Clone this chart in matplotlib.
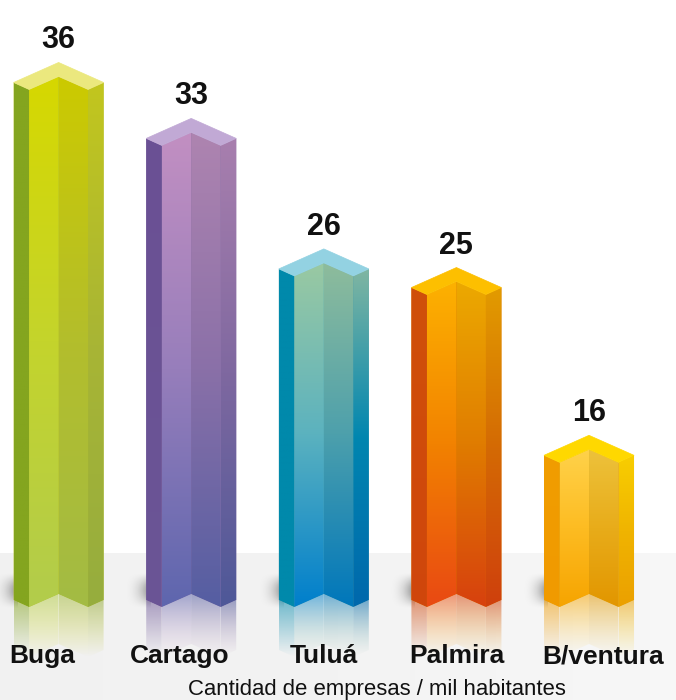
import numpy as np
import matplotlib.pyplot as plt
from matplotlib.patches import Polygon
from matplotlib.colors import LinearSegmentedColormap

categories = ["Buga", "Cartago", "Tuluá", "Palmira", "B/ventura"]
values = [36, 33, 26, 25, 16]
xlabel = "Cantidad de empresas / mil habitantes"

# face colours, top -> bottom
colors = [
    dict(top='#ebe87e', left=['#84a51f', '#84a51f'],
         fl=['#d6d800', '#c4d42c', '#b2cc4c'], fr=['#ccca00', '#b3be2c', '#a3bb44'],
         right=['#c2c61e', '#a8b535', '#96ad3e']),
    dict(top='#c1a9d5', left=['#6b5094', '#6a5596'],
         fl=['#c28fc2', '#977ebb', '#5e66ae'], fr=['#ae84b0', '#8a70a8', '#555ea2'],
         right=['#a87fae', '#7f68a0', '#4e5898']),
    dict(top='#93d2e2', left=['#0089ab', '#0089ab'],
         fl=['#9ac9a2', '#5bb2bf', '#007fcc'], fr=['#8ebc9c', '#4da0ac', '#0077bb'],
         right=['#80b6a2', '#0086b0', '#0068ac']),
    dict(top='#fdbf00', left=['#d0500a', '#cf460c'],
         fl=['#fdb100', '#f28200', '#e94913'], fr=['#eca900', '#e07c00', '#d7410e'],
         right=['#e29b00', '#d46a04', '#cf400d']),
    dict(top='#ffd800', left=['#f19d00', '#f09a00'],
         fl=['#ffd24a', '#fdbc22', '#f6a400'], fr=['#edc23b', '#e8ac1a', '#e29600'],
         right=['#f8ce00', '#f0b400', '#eba000']),
]

W, H = 676, 700
base = 8.24
xlim = (-0.442, 4.656)
ylim = (3.25, 40.80)
dx = (xlim[1] - xlim[0]) / W   # data units per pixel
dy = (ylim[1] - ylim[0]) / H


def py(p):
    # pixel row (from top) -> data y
    return ylim[1] - p * dy


def fill_grad(ax, verts, stops, alpha=(1, 1), z=2):
    poly = Polygon(verts, closed=True, fc='none', ec='none')
    ax.add_patch(poly)
    xs, ys = zip(*verts)
    cmap = LinearSegmentedColormap.from_list('g', stops)
    rgba = cmap(np.linspace(0, 1, 128))
    rgba[:, 3] = np.linspace(alpha[0], alpha[1], 128)
    im = ax.imshow(rgba[:, None, :], extent=[min(xs), max(xs), min(ys), max(ys)],
                   origin='upper', aspect='auto', interpolation='bilinear', zorder=z)
    im.set_clip_path(poly)


fig = plt.figure(figsize=(W / 100, H / 100), dpi=100)
ax = fig.add_axes([0, 0, 1, 1])
ax.axis('off')

# grey floor
floor = LinearSegmentedColormap.from_list('f', ['#f1f1f1', '#f3f3f3', '#f9f9f9'])(np.linspace(0, 1, 256))
ax.imshow(floor[None, :, :], extent=[xlim[0] - 1, xlim[1] + 1, ylim[0] - 1, py(553)],
          aspect='auto', interpolation='nearest', zorder=0)

for i, (v, c) in enumerate(zip(values, colors)):
    L, IL, C, IR, R = i - 45 * dx, i - 29.5 * dx, i, i + 29.5 * dx, i + 45 * dx
    t, b = v, base
    o7, o13, o27 = 7 * dy, 13 * dy, 27 * dy

    # soft shadow on the floor, left of the bar
    gx, gy = np.meshgrid(np.linspace(0, 1, 40), np.linspace(0, 1, 40))
    sh = np.zeros((40, 40, 4))
    sh[..., 3] = 0.45 * gx ** 2.5 * np.sin(np.pi * gy) ** 1.5
    ax.imshow(sh, extent=[L - 24 * dx, L + 4 * dx, b - 2 * dy, b + 34 * dy],
              origin='lower', aspect='auto', interpolation='bilinear', zorder=1)

    # solid silhouette behind the faces so no seams show through
    body = [(L, t + o7), (IL, t), (C, t + o13), (IR, t), (R, t + o7),
            (R, b + o7), (IR, b), (C, b + o13), (IL, b), (L, b + o7)]
    ax.add_patch(Polygon(body, closed=True, fc=c['fr'][1], ec='none', zorder=2.8))

    faces = [
        ([(L, t + o7), (IL, t), (IL, b), (L, b + o7)], c['left'], (L, b + o7), (IL, b)),
        ([(IL, t), (C, t + o13), (C, b + o13), (IL, b)], c['fl'], (IL, b), (C, b + o13)),
        ([(C, t + o13), (IR, t), (IR, b), (C, b + o13)], c['fr'], (C, b + o13), (IR, b)),
        ([(IR, t), (R, t + o7), (R, b + o7), (IR, b)], c['right'], (IR, b), (R, b + o7)),
    ]
    for verts, stops, p1, p2 in faces:
        fill_grad(ax, verts, stops, z=3)
        # reflection
        hr = 50 * dy
        rv = [p1, p2, (p2[0], p2[1] - hr), (p1[0], p1[1] - hr)]
        fill_grad(ax, rv, [stops[-1], stops[0]], alpha=(0.55, 0.0), z=2)

    top = [(L, t + o7), (C, t + o27), (R, t + o7), (IR, t), (C, t + o13), (IL, t)]
    ax.add_patch(Polygon(top, closed=True, fc=c['top'], ec=c['top'], lw=0.5, zorder=4))

    ax.text(i, t + o27 + 22 * dy, str(v), ha='center', va='center',
            fontsize=22, fontweight='bold', family='Liberation Sans', color='#111111', zorder=5)

label_dx = [-16, -12, 0, 0, 14]
for i, name in enumerate(categories):
    ax.text(i + label_dx[i] * dx, py(663), name, ha='center', va='baseline',
            fontsize=19, fontweight='bold', family='Liberation Sans', color='#111111', zorder=5)

ax.text(xlim[0] + 377 * dx, py(695), xlabel, ha='center', va='baseline',
        fontsize=15.9, family='Liberation Sans', color='#111111', zorder=5)

ax.set_xlim(*xlim)
ax.set_ylim(*ylim)
fig.savefig('out.png', dpi=100, facecolor='white')
